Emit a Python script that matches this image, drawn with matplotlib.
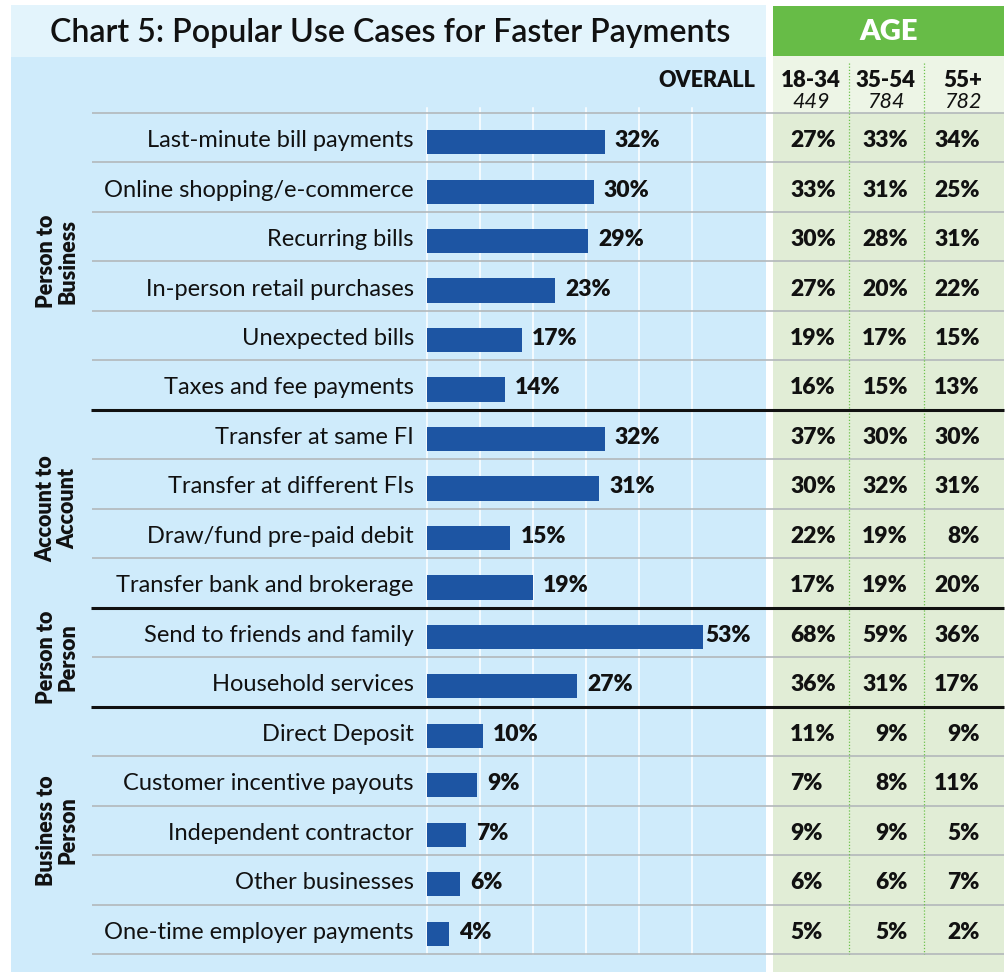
import matplotlib
matplotlib.use("Agg")
import matplotlib.pyplot as plt
import matplotlib.transforms as mtransforms
from matplotlib.patches import Rectangle
import numpy as np

plt.rcParams['font.family'] = ['Lato', 'DejaVu Sans']

# ---------------- data ----------------
title = "Chart 5: Popular Use Cases for Faster Payments"
categories = [
    "Last-minute bill payments", "Online shopping/e-commerce", "Recurring bills",
    "In-person retail purchases", "Unexpected bills", "Taxes and fee payments",
    "Transfer at same FI", "Transfer at different FIs", "Draw/fund pre-paid debit",
    "Transfer bank and brokerage", "Send to friends and family", "Household services",
    "Direct Deposit", "Customer incentive payouts", "Independent contractor",
    "Other businesses", "One-time employer payments",
]
overall = [32, 30, 29, 23, 17, 14, 32, 31, 15, 19, 53, 27, 10, 9, 7, 6, 4]
age_18_34 = [27, 33, 30, 27, 19, 16, 37, 30, 22, 17, 68, 36, 11, 7, 9, 6, 5]
age_35_54 = [33, 31, 28, 20, 17, 15, 30, 32, 19, 19, 59, 31, 9, 8, 9, 6, 5]
age_55_plus = [34, 25, 31, 22, 15, 13, 30, 31, 8, 20, 36, 17, 9, 11, 5, 7, 2]
age_labels = ["18-34", "35-54", "55+"]
age_n = ["449", "784", "782"]
groups = ["Person to\nBusiness", "Account to\nAccount", "Person to\nPerson", "Business to\nPerson"]
group_sizes = [6, 4, 2, 5]

# ---------------- style ----------------
W, H = 1006, 972
BAR = '#1D55A3'
BLUE_BG = '#CFEBFB'
TITLE_BG = '#E3F4FC'
GREEN = '#67BC47'
GREEN_HEAD = '#EDF5E6'
GREEN_ROWS = '#E1EDD6'
GRAY = '#B3B8BB'
INK = '#111111'
VAL_FS = 16.5

fig = plt.figure(figsize=(W / 100, H / 100), dpi=100)
bg = fig.add_axes([0, 0, 1, 1])
bg.set_xlim(0, W)
bg.set_ylim(H, 0)
bg.axis('off')

def rect(x0, y0, x1, y1, c):
    bg.add_patch(Rectangle((x0, y0), x1 - x0, y1 - y0, facecolor=c, edgecolor='none', zorder=0))

rect(11, 5, 766, 57, TITLE_BG)
rect(11, 57, 766, H, BLUE_BG)
rect(773, 6, 1004, 56, GREEN)
rect(773, 56, 1004, 113, GREEN_HEAD)
rect(773, 113, 1004, H, GREEN_ROWS)

# bar axes
top, bottom = 113, 954
bx0, bx1 = 427, 703
px_per_unit = 5.56
ax = fig.add_axes([bx0 / W, 1 - bottom / H, (bx1 - bx0) / W, (bottom - top) / H])
n = len(categories)
ax.set_ylim(n - 0.5, -0.5)
xmax = (bx1 - bx0) / px_per_unit
ax.set_xlim(0, xmax)
ax.axis('off')
ax.patch.set_alpha(0)

# white vertical gridlines (pixel positions in bg)
for k in range(6):
    gx = bx0 + 53.1 * k
    bg.plot([gx, gx], [108, bottom], color='white', lw=1.1, zorder=1)

rows = np.arange(n)
ax.barh(rows + 0.09, overall, height=0.49, color=BAR, zorder=3)

for i, v in enumerate(overall):
    if v <= xmax:
        ax.annotate(f"{v}%", xy=(v, i + 0.19), xytext=(7.2, 0), textcoords='offset points',
                    ha='left', va='baseline', fontsize=VAL_FS, fontweight='heavy',
                    color=INK, annotation_clip=False)
    else:
        ax.annotate(f"{v}%", xy=(xmax, i + 0.19), xytext=(1.4, 0), textcoords='offset points',
                    ha='left', va='baseline', fontsize=VAL_FS, fontweight='heavy',
                    color=INK, annotation_clip=False)

# blended transform: x in pixels (bg), y in row units (ax)
tr = mtransforms.blended_transform_factory(bg.transData, ax.transData)

# row labels
for i, c in enumerate(categories):
    bg.text(414, i + 0.19, c, transform=tr, ha='right', va='baseline', fontsize=17,
            color=INK)

# age values
cols = [(790, 'left', age_18_34), (908, 'right', age_35_54), (980, 'right', age_55_plus)]
for x, ha, vals in cols:
    for i, v in enumerate(vals):
        bg.text(x, i + 0.19, f"{v}%", transform=tr, ha=ha, va='baseline', fontsize=VAL_FS,
                fontweight='heavy', color=INK)

# separators
boundaries = np.cumsum(group_sizes)[:-1]
for b in range(n + 1):
    yv = b - 0.5
    if b in boundaries:
        bg.plot([91, 1004], [yv, yv], transform=tr, color=INK, lw=2.2, zorder=4,
                solid_capstyle='butt')
    else:
        bg.plot([92, 1004], [yv, yv], transform=tr, color=GRAY, lw=1.2, zorder=2,
                solid_capstyle='butt')

# dotted green column dividers
for dx in (849, 924):
    bg.plot([dx, dx], [63, bottom], color='#6CC24A', lw=0.9, ls=(0, (1, 1.5)), zorder=2)

# group labels
start = 0
for g, s in zip(groups, group_sizes):
    mid = start + (s - 1) / 2
    bg.text(57, mid, g, transform=tr, rotation=90, ha='center', va='center',
            multialignment='center', fontsize=15.5, fontweight='heavy', linespacing=1.05,
            color=INK)
    start += s

# headers
bg.text(50, 42, title, ha='left', va='baseline', fontsize=23.1, fontweight='semibold',
        color=INK)
bg.text(889, 40, "AGE", ha='center', va='baseline', fontsize=21, fontweight='heavy',
        color='white')
bg.text(755, 87, "OVERALL", ha='right', va='baseline', fontsize=15.5, fontweight='heavy',
        color=INK)
for cx, lab, nn in zip((811, 886, 963), age_labels, age_n):
    bg.text(cx, 87, lab, ha='center', va='baseline', fontsize=16, fontweight='heavy',
            color=INK)
    bg.text(cx, 107.5, nn, ha='center', va='baseline', fontsize=15.5, style='italic',
            color=INK)

fig.savefig("out.png", dpi=100)
